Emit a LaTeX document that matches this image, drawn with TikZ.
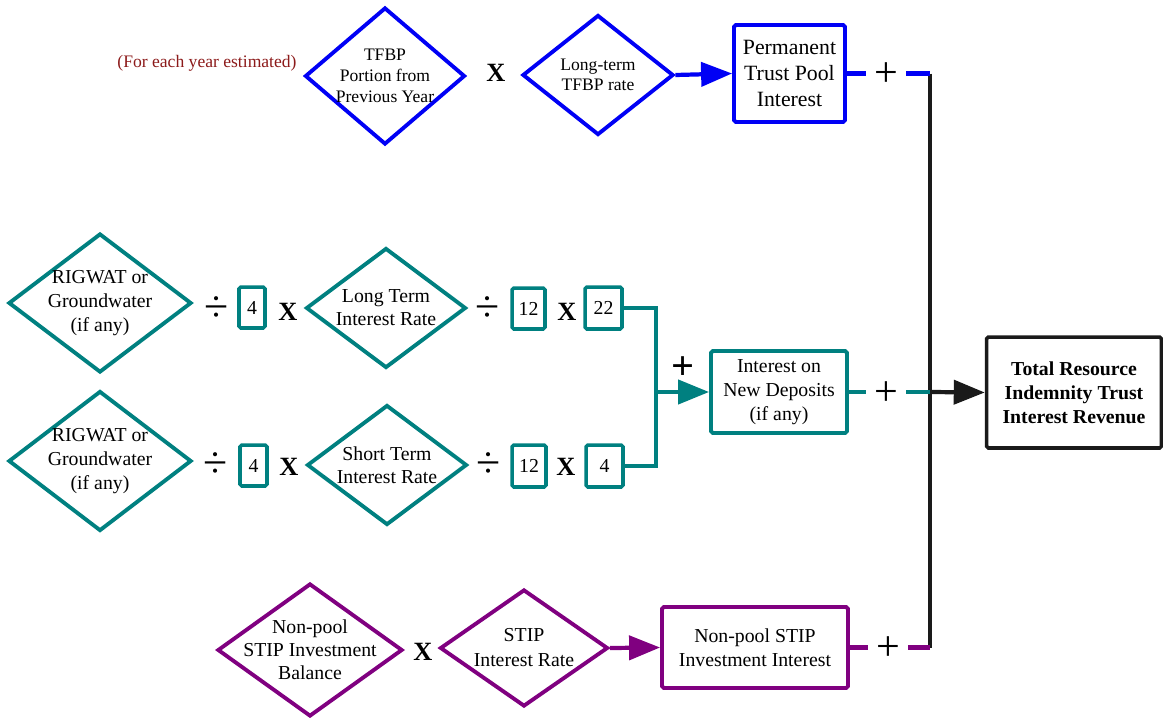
\documentclass[tikz,border=0pt]{standalone}
\usepackage{fontspec}
\setmainfont{Liberation Serif}
\usepackage{tikz}
\usetikzlibrary{shapes.geometric, arrows.meta, positioning, calc}
\definecolor{myblue}{RGB}{0,0,245}
\definecolor{myteal}{RGB}{0,128,128}
\definecolor{mypurple}{RGB}{128,0,128}
\definecolor{mynote}{RGB}{140,26,26}
\definecolor{mydark}{RGB}{26,26,26}
\tikzset{
  dia/.style={diamond, draw, line width=2.2pt, inner sep=0pt},
  dtext/.style={align=center, inner sep=0pt, font=\fontsize{11.25}{13.6}\selectfont},
  dsmall/.style={align=center, inner sep=0pt, font=\fontsize{10}{11.8}\selectfont},
  box/.style={rectangle, draw, line width=2.2pt, rounded corners=1pt,
    align=center, inner sep=0pt, font=\fontsize{11.25}{13.6}\selectfont},
  numbox/.style={rectangle, draw=myteal, line width=2pt, rounded corners=1pt,
    inner sep=0pt, minimum height=0.82cm, font=\fontsize{11.25}{13.6}\selectfont},
  op/.style={inner sep=0pt, font=\fontsize{15}{18}\selectfont\bfseries},
  divop/.style={inner sep=0pt, font=\fontsize{25}{27}\selectfont},
  plus/.style={inner sep=0pt, minimum width=0.8cm, font=\fontsize{24}{26}\selectfont},
  flow/.style={line width=2.4pt},
  arrow/.style={flow, -{Triangle[length=0.62cm, width=0.48cm]}}
}

\begin{document}
\begin{tikzpicture}[x=0.02cm, y=-0.02cm]
  \useasboundingbox (0,0) rectangle (1163,717);

  % ── Permanent trust pool (blue) ────────────────────────────────────────────
  \node[font=\fontsize{10}{12}\selectfont, text=mynote] (note) at (207,63) {(For each year estimated)};
  \node[dia, draw=myblue, minimum width=3.2cm, minimum height=2.74cm,
        label={[dsmall]center:{TFBP\\Portion from\\Previous Year}}] (tfbp) at (385,76) {};
  \node[op] (x1) at (496,73) {X};
  \node[dia, draw=myblue, minimum width=3.02cm, minimum height=2.4cm,
        label={[dsmall, font=\fontsize{10}{11.4}\selectfont]center:{Long-term\\TFBP rate}}] (ltr) at (598,75) {};
  \node[box, draw=myblue, minimum width=2.22cm, minimum height=1.94cm,
        font=\fontsize{12.4}{15}\selectfont] (ptp) at (789.5,73.5) {Permanent\\Trust Pool\\Interest};
  \draw[arrow, myblue] (ltr.east) -- (ptp.west);

  % ── New deposits (teal) ────────────────────────────────────────────────────
  % long term row
  \node[dia, draw=myteal, minimum width=3.66cm, minimum height=2.78cm,
        label={[dtext]center:{RIGWAT or\\Groundwater\\(if any)}}] (rig1) at (100,303) {};
  \node[divop] (d1) at (217,309) {÷};
  \node[numbox, minimum width=0.52cm] (b4a) at (252,307.5) {4};
  \node[op] (x2) at (288,312) {X};
  \node[dia, draw=myteal, minimum width=3.2cm, minimum height=2.4cm,
        label={[dtext, font=\fontsize{11.25}{13}\selectfont]center:{Long Term\\Interest Rate}}] (ltir) at (386,308) {};
  \node[divop] (d2) at (488,309) {÷};
  \node[numbox, minimum width=0.66cm] (b12a) at (528.5,308.5) {12};
  \node[op] (x3) at (567,312) {X};
  \node[numbox, minimum width=0.74cm, minimum height=0.84cm] (b22) at (603.5,308) {22};

  % short term row
  \node[dia, draw=myteal, minimum width=3.66cm, minimum height=2.8cm,
        label={[dtext]center:{RIGWAT or\\Groundwater\\(if any)}}] (rig2) at (100,461) {};
  \node[divop] (d3) at (216,465) {÷};
  \node[numbox, minimum width=0.54cm] (b4b) at (253.5,465.5) {4};
  \node[op] (x4) at (289,467) {X};
  \node[dia, draw=myteal, minimum width=3.2cm, minimum height=2.4cm,
        label={[dtext, font=\fontsize{11.25}{13}\selectfont]center:{Short Term\\Interest Rate}}] (stir) at (387,465) {};
  \node[divop] (d4) at (489,465) {÷};
  \node[numbox, minimum width=0.68cm, minimum height=0.84cm] (b12b) at (529,466) {12};
  \node[op] (x5) at (566,467) {X};
  \node[numbox, minimum width=0.74cm, minimum height=0.84cm] (b4c) at (604.5,466) {4};

  \node[box, draw=myteal, minimum width=2.72cm, minimum height=1.64cm] (nd) at (779,392) {Interest on\\New Deposits\\(if any)};
  \coordinate (join) at (656,0);
  \draw[flow, myteal] (b22.east) -| (join |- nd.west) |- (b4c.east);
  \draw[arrow, myteal] (join |- nd.west) -- (nd.west);
  \node[plus, font=\fontsize{23}{26}\selectfont\bfseries] (pj) at (683,368) {+};

  % ── Non-pool STIP (purple) ─────────────────────────────────────────────────
  \node[dia, draw=mypurple, minimum width=3.7cm, minimum height=2.66cm,
        label={[dtext, font=\fontsize{11.25}{13}\selectfont]center:{Non-pool\\STIP Investment\\Balance}}] (npb) at (310,650) {};
  \node[op] (x6) at (423,652) {X};
  \node[dia, draw=mypurple, minimum width=3.36cm, minimum height=2.34cm,
        label={[dtext, font=\fontsize{11.25}{14.2}\selectfont]center:{STIP\\Interest Rate}}] (stip) at (524,648) {};
  \node[box, draw=mypurple, minimum width=3.72cm, minimum height=1.62cm] (npi) at (755,647.5) {Non-pool STIP\\Investment Interest};
  \draw[arrow, mypurple] (stip.east) -- (npi.west);

  % ── Sum into total ─────────────────────────────────────────────────────────
  \node[box, draw=mydark, line width=2pt, minimum width=3.5cm, minimum height=2.22cm,
        font=\fontsize{11.25}{13.6}\selectfont\bfseries] (total) at (1074,392.5) {Total Resource\\Indemnity Trust\\Interest Revenue};
  \coordinate (busx) at (930,0);
  \draw[flow, mydark] (ptp.east -| busx) -- (npi.east -| busx);
  \draw[arrow, mydark] (nd.east -| busx) -- (total.west);

  \node[plus] (p1) at (886,74.5) {+};
  \node[plus] (p2) at (886,393.5) {+};
  \node[plus] (p3) at (888,649) {+};
  \draw[flow, myblue] (ptp.east) -- (ptp.east -| p1.west);
  \draw[flow, myblue] (ptp.east -| p1.east) -- (ptp.east -| busx);
  \draw[flow, myteal] (nd.east) -- (nd.east -| p2.west);
  \draw[flow, myteal] (nd.east -| p2.east) -- (nd.east -| busx);
  \draw[flow, mypurple] (npi.east) -- (npi.east -| p3.west);
  \draw[flow, mypurple] (npi.east -| p3.east) -- (npi.east -| busx);
\end{tikzpicture}
\end{document}
